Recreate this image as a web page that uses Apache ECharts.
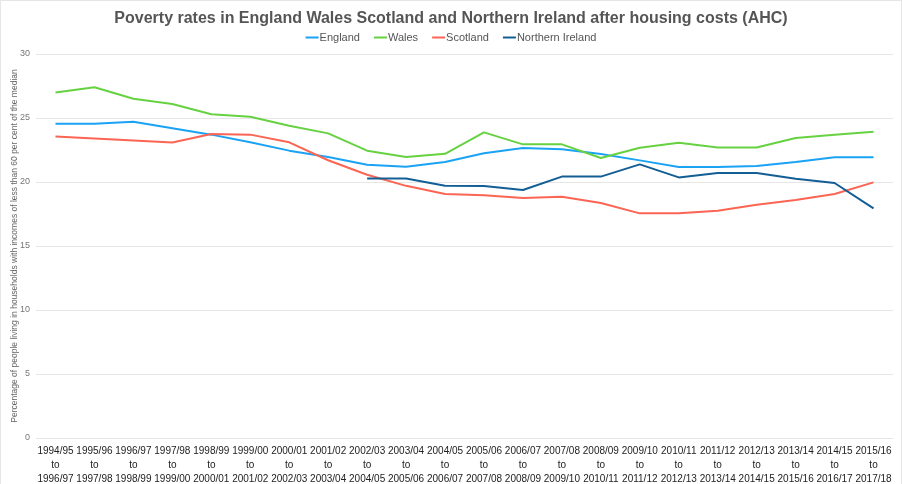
<!DOCTYPE html>
<html>
<head>
<meta charset="utf-8">
<script src="https://cdn.jsdelivr.net/npm/echarts@6/dist/echarts.min.js"></script>
<style>
html,body{margin:0;padding:0;background:#fff;}
#wrap{position:absolute;left:0;top:0;width:902px;height:484px;box-sizing:border-box;border:1px solid #e6e6e6;border-bottom:none;}
#chart{position:absolute;left:0;top:0;width:902px;height:484px;}
</style>
</head>
<body>
<div id="wrap"></div>
<div id="chart"></div>
<script>
const categories = ["1994/95\nto\n1996/97","1995/96\nto\n1997/98","1996/97\nto\n1998/99","1997/98\nto\n1999/00","1998/99\nto\n2000/01","1999/00\nto\n2001/02","2000/01\nto\n2002/03","2001/02\nto\n2003/04","2002/03\nto\n2004/05","2003/04\nto\n2005/06","2004/05\nto\n2006/07","2005/06\nto\n2007/08","2006/07\nto\n2008/09","2007/08\nto\n2009/10","2008/09\nto\n2010/11","2009/10\nto\n2011/12","2010/11\nto\n2012/13","2011/12\nto\n2013/14","2012/13\nto\n2014/15","2013/14\nto\n2015/16","2014/15\nto\n2016/17","2015/16\nto\n2017/18"];
const england = [24.55,24.55,24.7,24.2,23.7,23.1,22.45,21.95,21.35,21.2,21.56,22.24,22.66,22.55,22.19,21.69,21.17,21.17,21.25,21.56,21.93,21.93];
const wales = [27.0,27.4,26.5,26.1,25.3,25.1,24.4,23.8,22.45,21.95,22.2,23.88,22.94,22.94,21.87,22.68,23.07,22.7,22.7,23.44,23.7,23.93];
const scotland = [23.55,23.4,23.25,23.08,23.75,23.7,23.1,21.7,20.57,19.7,19.06,18.96,18.75,18.85,18.36,17.55,17.55,17.76,18.23,18.6,19.06,19.97];
const northernIreland = [null,null,null,null,null,null,null,null,20.28,20.28,19.7,19.68,19.37,20.42,20.42,21.38,20.36,20.7,20.7,20.26,19.92,17.94];
const yTicks = {min:0, max:30, interval:5};

const chart = echarts.init(document.getElementById('chart'));
const font = 'Liberation Sans, Arial, Helvetica, sans-serif';
function mk(name, data, color){
  return {name, type:'line', data, symbol:'none', connectNulls:false,
    lineStyle:{width:2, color}, itemStyle:{color}};
}
chart.setOption({
  animation:false,
  textStyle:{fontFamily:font},
  title:{text:'Poverty rates in England Wales Scotland and Northern Ireland after housing costs (AHC)',
    left:'center', top:6, textStyle:{fontSize:16, fontWeight:'bold', color:'#555', fontFamily:font}},
  legend:{top:27, left:'center', icon:'rect', itemWidth:13, itemHeight:2, itemGap:14,
    textStyle:{fontSize:11, color:'#555', fontFamily:font, padding:[0,0,0,-4]},
    data:['England','Wales','Scotland','Northern Ireland']},
  grid:{left:36, right:9, top:54, bottom:46, containLabel:false, outerBoundsMode:'none'},
  xAxis:{type:'category', data:categories, boundaryGap:true,
    axisLine:{show:true, lineStyle:{color:'#e6e6e6'}}, axisTick:{show:false},
    axisLabel:{interval:0, fontSize:10, color:'#222', lineHeight:14, margin:6, fontFamily:font}},
  yAxis:{type:'value', min:yTicks.min, max:yTicks.max, interval:yTicks.interval,
    name:'Percentage of people living in households with incomes of less than 60 per cent of the median',
    nameLocation:'middle', nameGap:17, nameMoveOverlap:false,
    nameTextStyle:{fontSize:8.5, color:'#666', fontFamily:font},
    axisLine:{show:false}, axisTick:{show:false},
    axisLabel:{fontSize:9, color:'#777', margin:6, fontFamily:font},
    splitLine:{lineStyle:{color:'#e6e6e6', width:1}}},
  series:[
    mk('England', england, '#1aa3f5'),
    mk('Wales', wales, '#66d241'),
    mk('Scotland', scotland, '#fc6553'),
    mk('Northern Ireland', northernIreland, '#125e95')
  ]
});
</script>
</body>
</html>
